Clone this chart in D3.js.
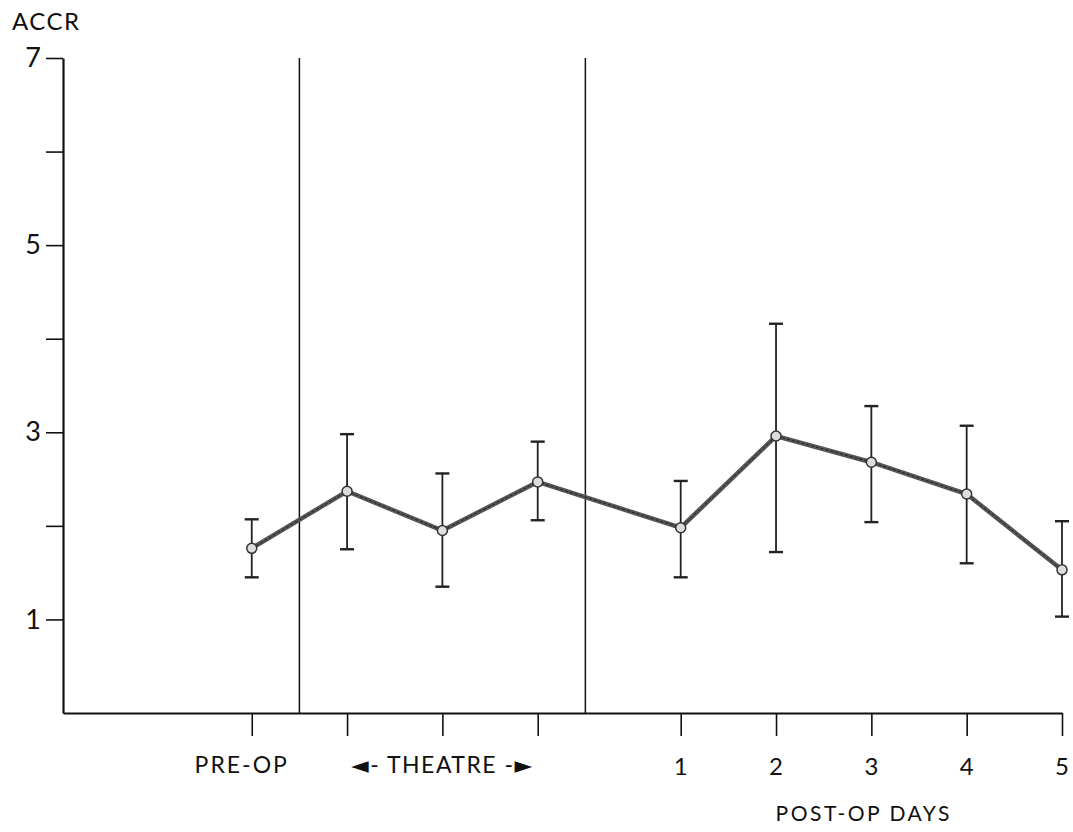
<!DOCTYPE html>
<html>
<head>
<meta charset="utf-8">
<script src="https://cdn.jsdelivr.net/npm/d3@7"></script>
<style>
  body { margin: 0; background: #fff; }
  text { font-family: Lato, "DejaVu Sans", sans-serif; fill: #111; }
</style>
</head>
<body>
<div id="chart"></div>
<script>
// data
const categories = ['PRE-OP', 'T1', 'T2', 'T3', '1', '2', '3', '4', '5'];
const meanVals = [1.76, 2.37, 1.95, 2.47, 1.98, 2.96, 2.68, 2.34, 1.53];
const upperVals = [2.07, 2.98, 2.56, 2.90, 2.48, 4.16, 3.28, 3.07, 2.05];
const lowerVals = [1.45, 1.75, 1.35, 2.06, 1.45, 1.72, 2.04, 1.60, 1.03];
const yTicks = [1, 2, 3, 4, 5, 6, 7];
const yTickLabels = ['1', '', '3', '', '5', '', '7'];
const dayLabels = ['1', '2', '3', '4', '5'];

const width = 1073;
const height = 832;

// theatre / post-op split leaves an extra half step before day 1
const slot = i => (i < 4 ? i : i + 0.5);

const series = categories.map((c, i) => ({
    cat: c,
    pos: slot(i),
    val: meanVals[i],
    hi: upperVals[i],
    lo: lowerVals[i]
}));

const x_scale = d3.scaleLinear()
    .domain([-1.98, 8.5])
    .range([63, 1062]);

const y_scale = d3.scaleLinear()
    .domain([0, 7])
    .range([713, 58]);

const svg = d3.select('#chart')
    .append('svg')
    .attr('width', width)
    .attr('height', height);

// axes
const x_axis = d3.axisBottom(x_scale)
    .tickValues(series.map(d => d.pos))
    .tickSize(23)
    .tickSizeOuter(0)
    .tickFormat('');

const y_axis = d3.axisLeft(y_scale)
    .tickValues(yTicks)
    .tickSize(17)
    .tickSizeOuter(0)
    .tickPadding(5)
    .tickFormat((d, i) => yTickLabels[i]);

const gx = svg.append('g')
    .attr('transform', `translate(0,${y_scale(0)})`)
    .call(x_axis);
const gy = svg.append('g')
    .attr('transform', `translate(${x_scale.range()[0]},0)`)
    .call(y_axis);

[gx, gy].forEach(g => {
    g.select('.domain').attr('stroke', '#111').attr('stroke-width', 2.2);
    g.selectAll('.tick line').attr('stroke', '#111').attr('stroke-width', 1.6);
});
gy.attr('font-size', 27).attr('font-family', 'Lato, "DejaVu Sans", sans-serif');
gy.selectAll('.tick text').attr('fill', '#111');

// period separators
[0.5, 3.5].forEach(p => {
    svg.append('line')
        .attr('x1', x_scale(p)).attr('x2', x_scale(p))
        .attr('y1', y_scale(7)).attr('y2', y_scale(0))
        .attr('stroke', '#111')
        .attr('stroke-width', 1.5);
});

// error bars
const bars = svg.append('g').selectAll('g')
    .data(series)
    .join('g')
    .attr('stroke', '#222')
    .attr('stroke-width', 1.8);
bars.append('line')
    .attr('x1', d => x_scale(d.pos)).attr('x2', d => x_scale(d.pos))
    .attr('y1', d => y_scale(d.hi)).attr('y2', d => y_scale(d.lo));
bars.append('line')
    .attr('x1', d => x_scale(d.pos) - 7).attr('x2', d => x_scale(d.pos) + 7)
    .attr('y1', d => y_scale(d.hi)).attr('y2', d => y_scale(d.hi))
    .attr('stroke-width', 2.4);
bars.append('line')
    .attr('x1', d => x_scale(d.pos) - 7).attr('x2', d => x_scale(d.pos) + 7)
    .attr('y1', d => y_scale(d.lo)).attr('y2', d => y_scale(d.lo))
    .attr('stroke-width', 2.4);

// mean line
const line = d3.line()
    .x(d => x_scale(d.pos))
    .y(d => y_scale(d.val));

svg.append('path')
    .datum(series)
    .attr('fill', 'none')
    .attr('stroke', '#555')
    .attr('stroke-width', 4.5)
    .attr('d', line);
svg.append('path')
    .datum(series)
    .attr('fill', 'none')
    .attr('stroke', '#222')
    .attr('stroke-width', 1)
    .attr('stroke-dasharray', '3,2')
    .attr('d', line);

svg.append('g').selectAll('circle')
    .data(series)
    .join('circle')
    .attr('cx', d => x_scale(d.pos))
    .attr('cy', d => y_scale(d.val))
    .attr('r', 5)
    .attr('fill', '#ddd')
    .attr('stroke', '#333')
    .attr('stroke-width', 1.5);

// labels
svg.append('text')
    .attr('x', 12).attr('y', 30)
    .style('font-size', '24px')
    .style('letter-spacing', '1.5px')
    .text('ACCR');

svg.append('text')
    .attr('x', x_scale(0) - 10).attr('y', 773)
    .attr('text-anchor', 'middle')
    .style('font-size', '23px')
    .style('letter-spacing', '2px')
    .text('PRE-OP');

svg.append('text')
    .attr('x', x_scale(2)).attr('y', 773)
    .attr('text-anchor', 'middle')
    .style('font-size', '23px')
    .style('letter-spacing', '1.5px')
    .text('◄- THEATRE -►');

svg.append('g').selectAll('text')
    .data(dayLabels)
    .join('text')
    .attr('x', (d, i) => x_scale(slot(i + 4)))
    .attr('y', 775)
    .attr('text-anchor', 'middle')
    .style('font-size', '24px')
    .text(d => d);

svg.append('text')
    .attr('x', x_scale(6.42)).attr('y', 821)
    .attr('text-anchor', 'middle')
    .style('font-size', '21px')
    .style('letter-spacing', '2.5px')
    .text('POST-OP  DAYS');
</script>
</body>
</html>
